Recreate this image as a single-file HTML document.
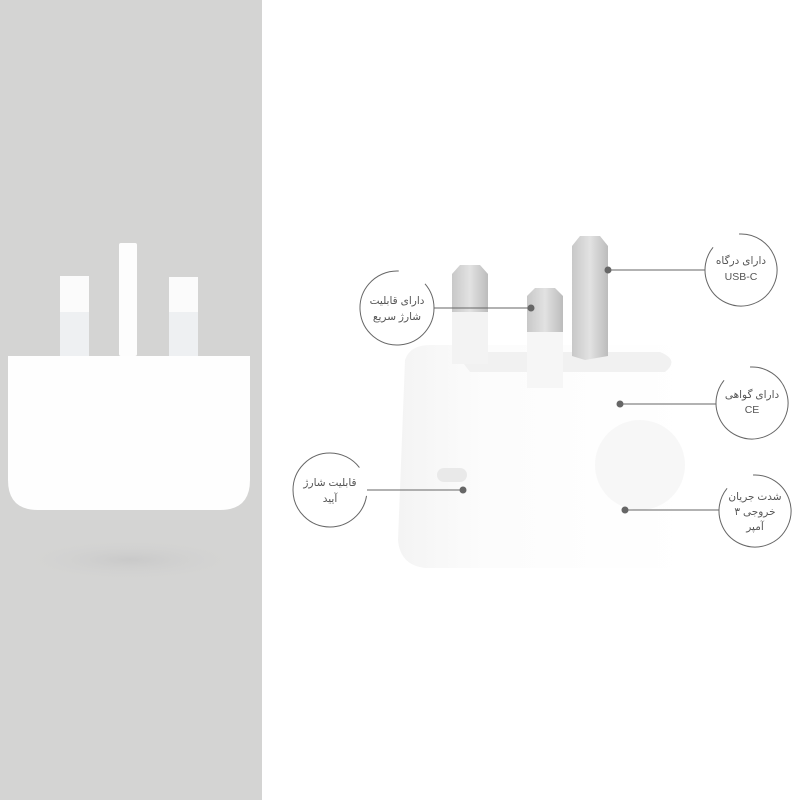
<!DOCTYPE html>
<html><head><meta charset="utf-8"><style>
html,body{margin:0;padding:0;background:#fff}
svg{display:block}
text{font-family:"Liberation Sans","DejaVu Sans",sans-serif;fill:#555;font-size:10.5px;text-anchor:middle}
</style></head><body>
<svg width="800" height="800" viewBox="0 0 800 800" xmlns="http://www.w3.org/2000/svg">
<defs>
<radialGradient id="sh" cx="50%" cy="50%" r="50%"><stop offset="0" stop-color="#c9c9c9"/><stop offset="1" stop-color="#d4d4d3" stop-opacity="0"/></radialGradient>
<linearGradient id="pin" x1="0" x2="1"><stop offset="0" stop-color="#c8c8c8"/><stop offset="0.5" stop-color="#e2e2e2"/><stop offset="1" stop-color="#bcbcbc"/></linearGradient>
<linearGradient id="body" x1="0" x2="1"><stop offset="0" stop-color="#f4f4f4"/><stop offset="0.3" stop-color="#fcfcfc"/><stop offset="1" stop-color="#fff"/></linearGradient>
</defs>
<rect x="0" y="0" width="262" height="800" fill="#d4d4d3"/>
<ellipse cx="130" cy="560" rx="115" ry="22" fill="url(#sh)"/>
<rect x="60" y="276" width="29" height="80" fill="#fbfbfb"/>
<rect x="60" y="312" width="29" height="44" fill="#eef0f2"/>
<rect x="169" y="277" width="29" height="80" fill="#fbfbfb"/>
<rect x="169" y="312" width="29" height="44" fill="#eef0f2"/>
<rect x="119" y="243" width="18" height="113" rx="2" fill="#fdfdfd"/>
<path d="M8 356 H250 V480 Q250 510 220 510 H38 Q8 510 8 480 Z" fill="#fefefe"/>
<path d="M405 360 Q410 345 430 345 L670 345 Q690 348 690 370 L690 545 Q690 565 670 568 L425 568 Q400 565 398 540 Z" fill="url(#body)"/>
<path d="M455 352 L660 352 Q680 360 665 372 L470 372 Z" fill="#f1f1f1"/>
<ellipse cx="640" cy="465" rx="45" ry="45" fill="#f7f7f7"/>
<rect x="437" y="468" width="30" height="14" rx="7" fill="#e9e9e9"/>
<path d="M452 274 L460 265 L480 265 L488 274 L488 312 L452 312 Z" fill="url(#pin)"/>
<rect x="452" y="312" width="36" height="52" fill="#f3f3f3"/>
<path d="M527 296 L535 288 L555 288 L563 296 L563 332 L527 332 Z" fill="url(#pin)"/>
<rect x="527" y="332" width="36" height="56" fill="#f6f6f6"/>
<path d="M572 246 L580 236 L600 236 L608 246 L608 356 L585 360 L572 356 Z" fill="url(#pin)"/>
<g stroke="#666" stroke-width="1" fill="none">
<circle cx="397" cy="308" r="37" stroke-dasharray="150 30" transform="rotate(40 397 308)"/>
<line x1="434" y1="308" x2="531" y2="308"/>
<circle cx="741" cy="270" r="36" stroke-dasharray="150 30" transform="rotate(-20 741 270)"/>
<line x1="705" y1="270" x2="608" y2="270"/>
<circle cx="752" cy="403" r="36" stroke-dasharray="150 30" transform="rotate(-20 752 403)"/>
<line x1="716" y1="404" x2="620" y2="404"/>
<circle cx="330" cy="490" r="37" stroke-dasharray="150 30" transform="rotate(90 330 490)"/>
<line x1="367" y1="490" x2="463" y2="490"/>
<circle cx="755" cy="511" r="36" stroke-dasharray="150 30" transform="rotate(-20 755 511)"/>
<line x1="719" y1="510" x2="625" y2="510"/>
</g>
<g fill="#666">
<circle cx="531" cy="308" r="3.5"/><circle cx="608" cy="270" r="3.5"/><circle cx="620" cy="404" r="3.5"/><circle cx="463" cy="490" r="3.5"/><circle cx="625" cy="510" r="3.5"/>
</g>
<text x="397" y="304">دارای قابلیت</text>
<text x="397" y="320">شارژ سریع</text>
<text x="741" y="264">دارای درگاه</text>
<text x="741" y="280">USB-C</text>
<text x="752" y="398">دارای گواهی</text>
<text x="752" y="413">CE</text>
<text x="330" y="486">قابلیت شارژ</text>
<text x="330" y="502">آیید</text>
<text x="755" y="500">شدت جریان</text>
<text x="755" y="515">خروجی ۳</text>
<text x="755" y="530">آمپر</text>
</svg>
</body></html>
